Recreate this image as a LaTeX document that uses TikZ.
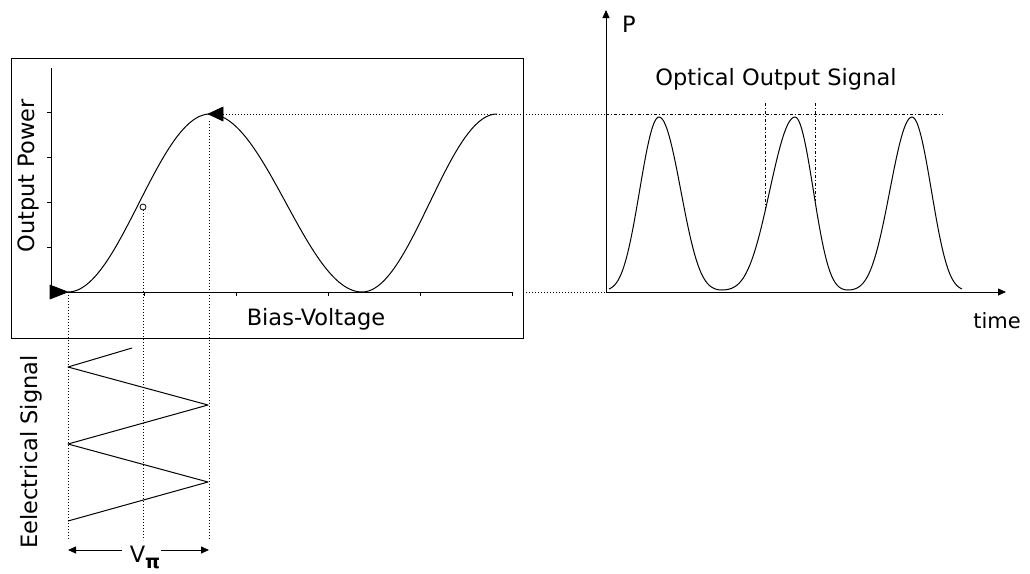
\documentclass[tikz,border=0pt]{standalone}
\usepackage{fontspec}
\setmainfont{DejaVu Sans}
\usetikzlibrary{arrows.meta}
\newcommand\mzpulse[1]{(290-173*((1-cos(180*(#1)))/2)*(0.2+0.8*(1-cos(180*(#1)))/2))}
\tikzset{
  thinline/.style={draw=black, line width=0.8pt},
  curveline/.style={draw=black, line width=1pt, line join=round},
  dotline/.style={draw=black, line width=0.8pt, dash pattern=on 1pt off 2pt},
  dashdotline/.style={draw=black, line width=0.8pt, dash pattern=on 3pt off 2pt on 1pt off 2pt},
  lbl/.style={font=\fontsize{22.5}{27}\selectfont, inner sep=0pt, text=black},
  arrowtip/.style={-{Triangle[length=8pt,width=7pt]}},
  marker/.style={fill=black, draw=black, line width=0.6pt}
}
\begin{document}
\begin{tikzpicture}[x=1pt,y=-1pt]
\useasboundingbox[fill=white] (0,0) rectangle (1030,573);

% frame of left plot
\draw[thinline] (11,58) rectangle (523,338);

% coordinates
\coordinate (O) at (51,292);
\coordinate (Ytop) at (51,68);
\coordinate (Xend) at (512,292);
\coordinate (peak) at (209,114);
\coordinate (mid) at (143,207);
\coordinate (start) at (68,292);
\coordinate (RO) at (606,292);
\coordinate (RYtop) at (606,10);
\coordinate (RXend) at (1006,292);

% left axes
\draw[thinline] (Ytop) -- (O) -- (Xend);
\foreach \t in {144,236,328,420,512} \draw[thinline] (\t,292) -- (\t,296);
\foreach \t in {247,202,157,112} \draw[thinline] (47,\t) -- (51,\t);

% transfer curve
\draw[curveline] plot[domain=68:210, samples=60] (\x, {292-178*(1-cos((\x-68)/142*180))/2})
  -- plot[domain=210:362, samples=60] (\x, {114+178*(1-cos((\x-210)/152*180))/2})
  -- plot[domain=362:497, samples=60] (\x, {292-178*(1-cos((\x-362)/135*180))/2});

% markers
\path[marker] (50,285) -- (68,292) -- (50,299) -- cycle;
\path[marker] (208,114) -- (223,107) -- (223,121) -- cycle;
\draw[thinline, fill=white] (mid) circle (3);

% dotted guides
\draw[dotline] (223,114) -- (RO |- peak);
\draw[dotline] (523,292) -- (RO);
\draw[dotline] (start) -- (68,540);
\draw[dotline] (143,210) -- (143,540);
\draw[dotline] (209,121) -- (209,540);

% electrical signal
\draw[curveline] (132,348) -- (68,367) -- (208,405) -- (68,444) -- (208,482) -- (68,521);

% V pi arrows
\node[lbl, anchor=center] (vpi) at (145,557) {V\raisebox{-6pt}{\fontsize{19}{20}\selectfont\bfseries π}};
\coordinate (vl) at (122,550);
\coordinate (vr) at (161,550);
\draw[thinline, arrowtip] (vl) -- (68,550);
\draw[thinline, arrowtip] (vr) -- (209,550);

% right axes
\draw[thinline, arrowtip] (RO) -- (RYtop);
\draw[thinline, arrowtip] (RO) -- (RXend);

% optical output pulses
\draw[curveline]
  plot[domain=609:659, samples=40] (\x, {\mzpulse{(\x-603)/56}})
  -- plot[domain=659:722, samples=40] (\x, {\mzpulse{(722-\x)/63}})
  -- plot[domain=722:795, samples=40] (\x, {\mzpulse{(\x-722)/73}})
  -- plot[domain=795:848, samples=40] (\x, {\mzpulse{(848-\x)/53}})
  -- plot[domain=848:912, samples=40] (\x, {\mzpulse{(\x-848)/64}})
  -- plot[domain=912:962, samples=40] (\x, {\mzpulse{(968-\x)/56}});

% dash-dot guides on right
\draw[dashdotline] (RO |- peak) -- (943,114);
\coordinate (wl) at (765,{\mzpulse{(765-722)/73}});
\coordinate (wr) at (815,{\mzpulse{(848-815)/53}});
\draw[dashdotline] (765,103) -- (wl);
\draw[dashdotline] (815,103) -- (wr);

% labels
\node[lbl, rotate=90] (outpow) at (28,176) {Output Power};
\node[lbl] (bias) at (316,319) {Bias-Voltage};
\node[lbl, rotate=90] (elec) at (31,452) {Eelectrical Signal};
\node[lbl] (optsig) at (776,79) {Optical Output Signal};
\node[lbl, anchor=west] (plab) at (622,24) {P};
\node[lbl, font=\fontsize{21}{25}\selectfont] (tlab) at (997,321) {time};
\end{tikzpicture}
\end{document}
